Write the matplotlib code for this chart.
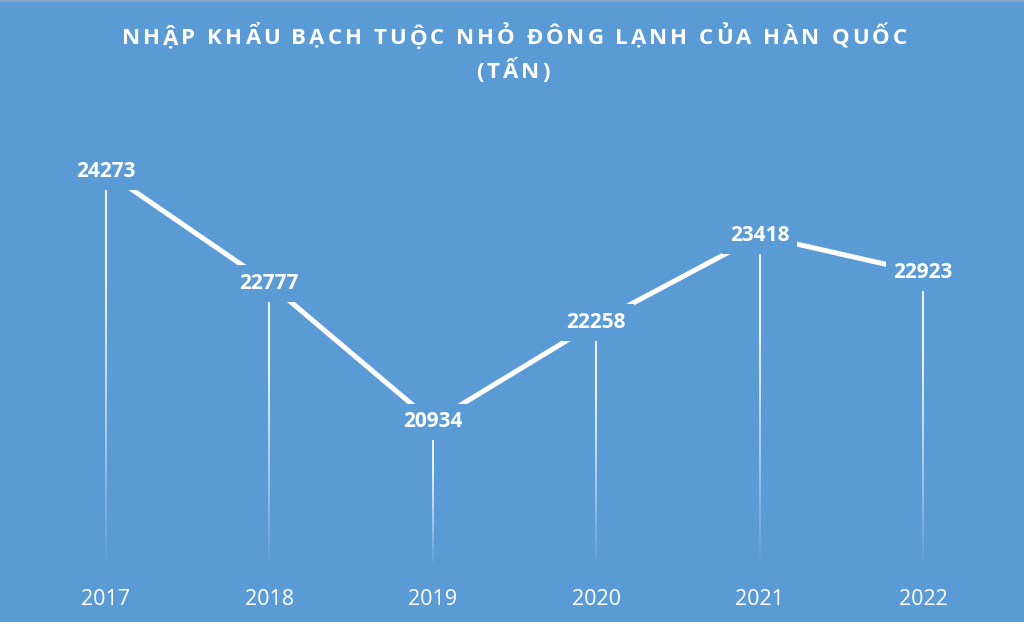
import numpy as np
import matplotlib
matplotlib.use("Agg")
import matplotlib.pyplot as plt
from matplotlib.collections import LineCollection
from matplotlib.lines import Line2D

# Data
years = ['2017', '2018', '2019', '2020', '2021', '2022']
tons = [24273, 22777, 20934, 22258, 23418, 22923]
title_1 = 'NHẬP KHẨU BẠCH TUỘC NHỎ ĐÔNG LẠNH CỦA HÀN QUỐC'
title_2 = '(TẤN)'

bg = '#5b9bd5'
plt.rcParams['font.family'] = ['Open Sans', 'DejaVu Sans']

fig = plt.figure(figsize=(10.24, 6.22), dpi=100, facecolor=bg)
ax = fig.add_axes([24/1024, 0.0884, 981/1024, 0.7235])
ax.set_facecolor(bg)
x = np.arange(len(years))
ymin, ymax = 19000, 25000
ax.set_xlim(-0.5, len(years) - 0.5)
ax.set_ylim(ymin, ymax)

# drop lines fading toward the bottom
n = 60
for xi, v in zip(x, tons):
    ys = np.linspace(v, ymin, n + 1)
    segs = [[(xi, ys[k]), (xi, ys[k + 1])] for k in range(n)]
    frac = np.linspace(0, 1, n)
    alpha = np.clip(1.2 - 1.2 * frac**1.4, 0, 1) * 0.9
    cols = [(1, 1, 1, a) for a in alpha]
    ax.add_collection(LineCollection(segs, colors=cols, linewidths=1.4, zorder=1))

ax.plot(x, tons, color='white', lw=3.6, solid_capstyle='butt', zorder=2)

for xi, v in zip(x, tons):
    ax.text(xi, v, str(v), ha='center', va='center', color='white',
            fontsize=15, fontweight='bold', zorder=3,
            bbox=dict(facecolor=bg, edgecolor='none', boxstyle='square,pad=0.38'))

ax.set_xticks(x)
ax.set_xticklabels(years, color='white', fontsize=15.5)
ax.tick_params(axis='x', length=0, pad=16)
ax.set_yticks([])
for s in ax.spines.values():
    s.set_visible(False)

# faint border at the top edge
fig.add_artist(Line2D([0, 1], [1 - 1 / 622, 1 - 1 / 622], color='#86a5c8', lw=1.5))

# title with letter spacing
renderer = fig.canvas.get_renderer()
fs = 16
track = 3.0  # px between letters


def char_widths(s):
    out = []
    for ch in s:
        if ch == ' ':
            a = fig.text(0, 0, 'N N', fontsize=fs, fontweight='bold')
            b = fig.text(0, 0, 'NN', fontsize=fs, fontweight='bold')
            out.append(a.get_window_extent(renderer).width - b.get_window_extent(renderer).width)
            a.remove(); b.remove()
        else:
            t = fig.text(0, 0, ch, fontsize=fs, fontweight='bold')
            out.append(t.get_window_extent(renderer).width)
            t.remove()
    return out


for line, cx, cy in [(title_1, 514, 38), (title_2, 513, 72)]:
    w = char_widths(line)
    total = sum(w) + track * (len(w) - 1)
    px = cx - total / 2
    for ch, wi in zip(line, w):
        fig.text(px / 1024, 1 - cy / 622, ch, fontsize=fs, fontweight='bold',
                 color='white', ha='left', va='center')
        px += wi + track

fig.savefig('out.png', dpi=100, facecolor=bg)
